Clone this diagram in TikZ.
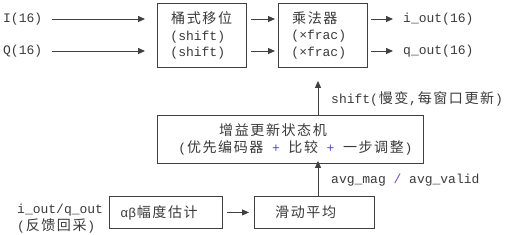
\documentclass[tikz,border=0pt]{standalone}
\usepackage{fontspec}
\setmainfont{Liberation Mono}
\newfontfamily\cjkfont[Scale=1.08]{Noto Sans CJK SC}
\newcommand\zh[1]{\zhloop#1\relax}
\def\zhloop#1{\ifx\relax#1\else\makebox[15.6pt]{\cjkfont#1}\expandafter\zhloop\fi}
\newcommand\msp{\hspace*{7.8pt}}
\usetikzlibrary{arrows.meta}
\definecolor{txt}{HTML}{3A3A3A}
\definecolor{edge}{HTML}{404040}
\definecolor{plusc}{HTML}{4A4AD0}
\definecolor{slashc}{HTML}{7048B8}
\tikzset{
  every node/.style={font=\fontsize{13}{16.5}\selectfont, text=txt},
  box/.style={draw=edge, line width=0.9pt, anchor=north west, align=left, inner ysep=0pt},
  lbl/.style={inner sep=0pt, anchor=west},
  arr/.style={draw=edge, line width=0.9pt, -{Triangle[length=7pt,width=6pt]}},
}
\begin{document}
\begin{tikzpicture}[x=1pt,y=-1pt]
\useasboundingbox (0,0) rectangle (506,235);
\coordinate (r1) at (0,19);
\coordinate (r2) at (0,51);
\coordinate (ax) at (318,0);
% boxes
\node[box, minimum height=64pt, inner xsep=13pt, text width=63pt] (b1) at (157,3)
  {\zh{桶式移位}\\(shift)\\(shift)};
\node[box, minimum height=64pt, inner xsep=13pt, text width=63pt] (b2) at (278,3)
  {\zh{乘法器}\\(×frac)\\(×frac)};
\node[box, minimum height=48pt, inner xsep=0pt, text width=266pt] (b3) at (157,115)
  {\hspace*{61pt}\zh{增益更新状态机}\\\hspace*{21pt}(\zh{优先编码器}\msp{\color{plusc}+}\msp\zh{比较}\msp{\color{plusc}+}\msp\zh{一步调整})};
\node[box, minimum height=32pt, inner xsep=11pt, text width=91pt] (b4) at (109,196)
  {αβ\zh{幅度估计}};
\node[box, minimum height=32pt, inner xsep=20pt, text width=80pt] (b5) at (254,196)
  {\zh{滑动平均}};
% labels
\node[lbl] (inI) at (3,19) {I(16)};
\node[lbl] (inQ) at (3,51) {Q(16)};
\node[lbl] (outI) at (403,19) {i\_out(16)};
\node[lbl] (outQ) at (403,51) {q\_out(16)};
\node[lbl] (lshift) at (331,99) {shift(\zh{慢变},\zh{每窗口更新})};
\node[lbl] (lavg) at (331,180) {avg\_mag\msp{\color{slashc}/}\msp{}avg\_valid};
\node[lbl, align=left, anchor=north west] (lfb) at (17,204) {i\_out/q\_out\\(\zh{反馈回采})};
% connectors
\draw[arr, shorten <=10pt, shorten >=12pt] (inI.east) -- (inI.east -| b1.west);
\draw[arr, shorten <=10pt, shorten >=12pt] (inQ.east) -- (inQ.east -| b1.west);
\draw[arr, shorten <=4pt, shorten >=3pt] (r1 -| b1.east) -- (r1 -| b2.west);
\draw[arr, shorten <=4pt, shorten >=3pt] (r2 -| b1.east) -- (r2 -| b2.west);
\draw[arr, shorten <=3pt, shorten >=10pt] (r1 -| b2.east) -- (outI.west);
\draw[arr, shorten <=3pt, shorten >=10pt] (r2 -| b2.east) -- (outQ.west);
\draw[arr, shorten >=13pt] (b3.north -| ax) -- (b2.south -| ax);
\draw[arr, shorten >=-3pt] (b5.north -| ax) -- (b3.south -| ax);
\draw[arr, shorten <=4pt, shorten >=5pt] (b4.east) -- (b5.west);
\end{tikzpicture}
\end{document}
